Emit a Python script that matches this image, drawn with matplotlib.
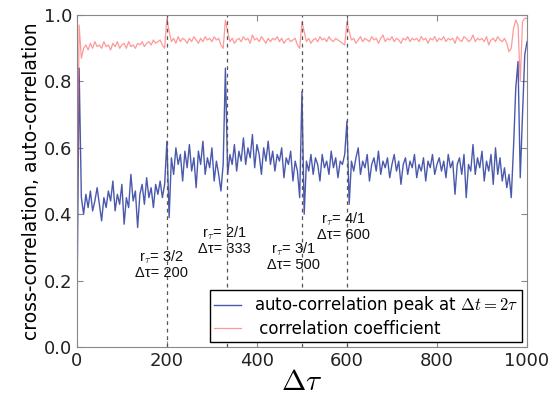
import numpy as np
import matplotlib
matplotlib.use("Agg")
import matplotlib.pyplot as plt

plt.rcParams["mathtext.fontset"] = "cm"

# sample positions (delta tau)
dtau = np.arange(0, 1001, 5)

# auto-correlation peak at dt = 2 tau (50 units per row)
auto_corr = [
    0.07, 0.84, 0.45, 0.40, 0.46, 0.42, 0.47, 0.41, 0.44, 0.48,
    0.43, 0.38, 0.45, 0.42, 0.47, 0.44, 0.50, 0.41, 0.46, 0.43,
    0.49, 0.37, 0.45, 0.42, 0.52, 0.44, 0.47, 0.36, 0.46, 0.49,
    0.43, 0.51, 0.45, 0.48, 0.42, 0.49, 0.46, 0.50, 0.45, 0.49,
    0.62, 0.39, 0.57, 0.52, 0.60, 0.55, 0.58, 0.50, 0.59, 0.54,
    0.61, 0.53, 0.57, 0.48, 0.59, 0.55, 0.62, 0.52, 0.57, 0.54,
    0.60, 0.50, 0.56, 0.52, 0.47, 0.55, 0.84, 0.52, 0.58, 0.55,
    0.61, 0.53, 0.59, 0.56, 0.63, 0.55, 0.60, 0.57, 0.64, 0.54,
    0.61, 0.58, 0.52, 0.60, 0.56, 0.62, 0.55, 0.59, 0.53, 0.58,
    0.56, 0.60, 0.51, 0.57, 0.55, 0.59, 0.50, 0.56, 0.53, 0.45,
    0.77, 0.40, 0.56, 0.53, 0.58, 0.52, 0.57, 0.55, 0.50, 0.58,
    0.54, 0.56, 0.52, 0.59, 0.54, 0.57, 0.51, 0.56, 0.55, 0.58,
    0.68, 0.43, 0.56, 0.53, 0.57, 0.60, 0.52, 0.56, 0.54, 0.58,
    0.50, 0.55, 0.57, 0.53, 0.59, 0.52, 0.56, 0.54, 0.57, 0.51,
    0.55, 0.58, 0.53, 0.56, 0.49, 0.55, 0.57, 0.52, 0.56, 0.54,
    0.58, 0.51, 0.55, 0.53, 0.57, 0.50, 0.56, 0.54, 0.58, 0.52,
    0.55, 0.57, 0.53, 0.56, 0.51, 0.58, 0.54, 0.56, 0.46, 0.55,
    0.57, 0.52, 0.58, 0.45, 0.55, 0.53, 0.61, 0.52, 0.57, 0.54,
    0.59, 0.50, 0.56, 0.53, 0.58, 0.49, 0.60, 0.52, 0.57, 0.50,
    0.54, 0.48, 0.52, 0.45, 0.60, 0.78, 0.86, 0.51, 0.70, 0.88,
    0.92,
]

# correlation coefficient
corr_coef = [
    0.29, 0.97, 0.87, 0.90, 0.91, 0.895, 0.915, 0.90, 0.92, 0.905,
    0.91, 0.90, 0.92, 0.905, 0.91, 0.895, 0.915, 0.905, 0.92, 0.90,
    0.91, 0.915, 0.90, 0.92, 0.905, 0.91, 0.90, 0.915, 0.91, 0.92,
    0.905, 0.915, 0.92, 0.91, 0.925, 0.915, 0.92, 0.925, 0.91, 0.90,
    0.99, 0.95, 0.92, 0.93, 0.915, 0.935, 0.92, 0.93, 0.925, 0.915,
    0.93, 0.92, 0.935, 0.925, 0.915, 0.93, 0.92, 0.935, 0.925, 0.93,
    0.92, 0.935, 0.925, 0.93, 0.91, 0.90, 0.985, 0.95, 0.92, 0.93,
    0.915, 0.925, 0.93, 0.92, 0.935, 0.925, 0.93, 0.915, 0.94, 0.925,
    0.93, 0.92, 0.935, 0.925, 0.915, 0.93, 0.92, 0.93, 0.925, 0.935,
    0.92, 0.93, 0.915, 0.925, 0.93, 0.92, 0.925, 0.93, 0.91, 0.90,
    0.98, 0.95, 0.92, 0.93, 0.915, 0.925, 0.93, 0.92, 0.935, 0.925,
    0.93, 0.92, 0.935, 0.925, 0.92, 0.93, 0.925, 0.92, 0.915, 0.91,
    0.98, 0.95, 0.925, 0.93, 0.915, 0.925, 0.935, 0.92, 0.93, 0.925,
    0.92, 0.935, 0.925, 0.93, 0.915, 0.93, 0.94, 0.92, 0.93, 0.925,
    0.935, 0.92, 0.93, 0.925, 0.915, 0.93, 0.925, 0.935, 0.92, 0.93,
    0.925, 0.93, 0.92, 0.935, 0.925, 0.93, 0.915, 0.93, 0.925, 0.935,
    0.92, 0.93, 0.925, 0.935, 0.92, 0.93, 0.925, 0.93, 0.915, 0.935,
    0.925, 0.92, 0.935, 0.93, 0.92, 0.925, 0.94, 0.92, 0.93, 0.925,
    0.93, 0.92, 0.935, 0.91, 0.925, 0.93, 0.92, 0.935, 0.925, 0.92,
    0.93, 0.915, 0.89, 0.90, 0.96, 0.985, 0.97, 0.80, 0.98, 0.99,
    0.99,
]

# resonance markers
marker_pos = [200, 333, 500, 600]
marker_ratio = ["3/2", "2/1", "3/1", "4/1"]
label_x = [188, 327, 482, 593]
label_y = [0.248, 0.322, 0.273, 0.363]

fig = plt.figure(figsize=(5.53, 3.97), dpi=100)
ax = fig.add_axes([0.139, 0.126, 0.814, 0.836])

ax.plot(dtau, auto_corr, color="#2a3c9e", lw=1.0, alpha=0.85,
        label=r"auto-correlation peak at $\Delta t=2\tau$")
ax.plot(dtau, corr_coef, color="#ff5555", lw=0.9, alpha=0.6,
        label=" correlation coefficient")

for p, r, lx, ly in zip(marker_pos, marker_ratio, label_x, label_y):
    ax.axvline(p, color="#555555", ls="--", lw=0.9, dashes=(3, 3))
    ax.text(lx, ly, r"r$_\tau$= " + r + "\n\u0394\u03c4= " + str(p),
            ha="center", va="center", fontsize=10.5, linespacing=1.0,
            family="Liberation Sans", color="#111111")

ax.set_xlim(0, 1000)
ax.set_ylim(0, 1.0)
ax.set_xticks(range(0, 1001, 200))
ax.set_yticks([0.0, 0.2, 0.4, 0.6, 0.8, 1.0])
ax.set_yticklabels(["0.0", "0.2", "0.4", "0.6", "0.8", "1.0"])
ax.tick_params(direction="in", top=True, right=True, labelsize=13,
               colors="#222222", length=4)
ax.tick_params(color="#888888")
for s in ax.spines.values():
    s.set_color("#888888")

ax.set_xlabel(r"$\Delta\tau$", fontsize=21, labelpad=-1)
ax.set_ylabel("cross-correlation, auto-correlation", fontsize=13.5, labelpad=2)

leg = ax.legend(loc="lower right", fontsize=12, fancybox=False,
                edgecolor="black", framealpha=1, handlelength=1.6,
                borderaxespad=0.3, borderpad=0.25, labelspacing=0.2)
leg.get_frame().set_linewidth(1.0)

fig.savefig("out.png", dpi=100)
